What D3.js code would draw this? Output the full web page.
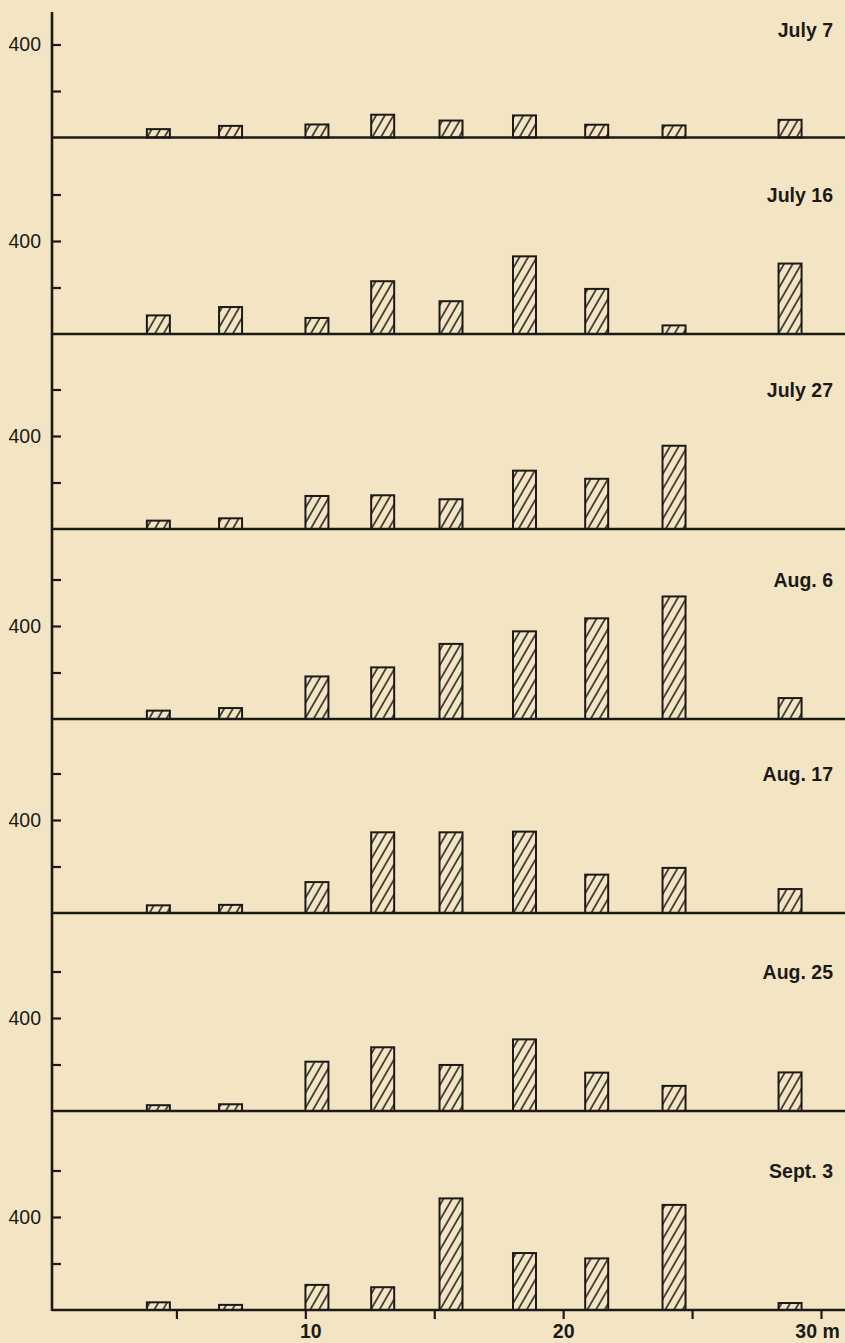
<!DOCTYPE html>
<html>
<head>
<meta charset="utf-8">
<script src="https://cdn.jsdelivr.net/npm/d3@7"></script>
<style>
  html, body { margin: 0; padding: 0; background: #f3e5c4; }
  svg { display: block; }
  text { font-family: "Liberation Sans", Arial, Helvetica, sans-serif; fill: #1c1a17; }
</style>
</head>
<body>
<svg id="chart" width="845" height="1343"></svg>
<script>
// ---- data ----
const panelLabels = ["July 7", "July 16", "July 27", "Aug. 6", "Aug. 17", "Aug. 25", "Sept. 3"];
const depths = [4.3, 7.1, 10.45, 13.0, 15.65, 18.5, 21.3, 24.3, 28.8];
const july7  = [36, 50, 56, 98, 73, 95, 55, 52, 76];
const july16 = [80, 116, 69, 227, 141, 334, 194, 37, 303];
const july27 = [36, 46, 142, 145, 128, 251, 216, 358, null];
const aug6   = [36, 47, 183, 222, 323, 377, 433, 527, 90];
const aug17  = [33, 35, 133, 347, 347, 350, 165, 194, 103];
const aug25  = [25, 29, 212, 274, 198, 308, 165, 108, 166];
const sept3  = [33, 22, 108, 98, 480, 245, 222, 452, 30];
const seriesValues = [july7, july16, july27, aug6, aug17, aug25, sept3];
const yTickValues = [200, 400, 600];
const yLabelValue = 400;
const xTickValues = [5, 10, 15, 20, 25, 30];
const xTickLabels = {10: "10", 20: "20", 30: "30 m"};

// ---- layout ----
const W = 845, H = 1343;
const axisX = 52;
const axisTop = 12;
const panelBase = [137.5, 334, 529, 719, 913, 1111, 1310];
const px400 = 93;      // pixels for 400 units
const barW = 23;
const ink = "#1c1a17";
const paper = "#f3e5c4";

const svg = d3.select("#chart");
svg.append("rect").attr("width", W).attr("height", H).attr("fill", paper);

// hatch pattern
const defs = svg.append("defs");
const pat = defs.append("pattern")
  .attr("id", "hatch")
  .attr("patternUnits", "userSpaceOnUse")
  .attr("width", 7.5).attr("height", 10)
  .attr("patternTransform", "rotate(30)");
pat.append("rect").attr("width", 7.5).attr("height", 10).attr("fill", paper);
pat.append("line").attr("x1", 1).attr("y1", 0).attr("x2", 1).attr("y2", 10)
  .attr("stroke", ink).attr("stroke-width", 1.5);

const x = d3.scaleLinear().domain([0, 30]).range([47.5, 821]);

// vertical axis line
svg.append("line")
  .attr("x1", axisX).attr("x2", axisX)
  .attr("y1", axisTop).attr("y2", panelBase[panelBase.length - 1] + 1)
  .attr("stroke", ink).attr("stroke-width", 2.6);

seriesValues.forEach((vals, i) => {
  const base = panelBase[i];
  const y = d3.scaleLinear().domain([0, 400]).range([base, base - px400]);
  const g = svg.append("g");

  // y ticks
  const ticks = yTickValues.filter(v => y(v) > axisTop + 4);
  const yAxis = d3.axisLeft(y)
    .tickValues(ticks)
    .tickSize(-9)
    .tickPadding(11)
    .tickFormat(d => d === yLabelValue ? String(d) : "");
  const ya = g.append("g").attr("transform", `translate(${axisX},0)`).call(yAxis);
  ya.select(".domain").remove();
  ya.selectAll(".tick line").attr("stroke", ink).attr("stroke-width", 2.2);
  ya.selectAll(".tick text")
    .attr("font-size", 19.5)
    .attr("fill", ink)
    .style("font-family", '"Liberation Sans", Arial, sans-serif');

  // bars
  const data = depths.map((d, j) => ({d, v: vals[j]})).filter(o => o.v != null);
  g.selectAll("rect.bar").data(data).enter().append("rect")
    .attr("class", "bar")
    .attr("x", o => x(o.d) - barW / 2)
    .attr("width", barW)
    .attr("y", o => y(o.v))
    .attr("height", o => y(0) - y(o.v))
    .attr("fill", "url(#hatch)")
    .attr("stroke", ink)
    .attr("stroke-width", 2);

  // baseline
  g.append("line")
    .attr("x1", axisX).attr("x2", W)
    .attr("y1", base).attr("y2", base)
    .attr("stroke", ink).attr("stroke-width", 2.6);

  // panel label
  g.append("text")
    .attr("x", 833)
    .attr("y", Math.max(base - 132, 37))
    .attr("text-anchor", "end")
    .attr("font-size", 19.5)
    .attr("font-weight", "bold")
    .text(panelLabels[i]);
});

// bottom x axis ticks and labels
const lastBase = panelBase[panelBase.length - 1];
const xAxis = d3.axisBottom(x)
  .tickValues(xTickValues)
  .tickSize(9)
  .tickPadding(5)
  .tickFormat(d => xTickLabels[d] || "");
const xa = svg.append("g").attr("transform", `translate(0,${lastBase})`).call(xAxis);
xa.select(".domain").remove();
xa.selectAll(".tick line").attr("stroke", ink).attr("stroke-width", 2.2);
xa.selectAll(".tick text")
  .attr("font-size", 19.5)
  .attr("font-weight", "bold")
  .attr("fill", ink)
  .style("font-family", '"Liberation Sans", Arial, sans-serif');
xa.selectAll(".tick text").filter(d => d === 30).attr("dx", -4);
xa.selectAll(".tick text").filter(d => d === 10).attr("dx", 5);
</script>
</body>
</html>
